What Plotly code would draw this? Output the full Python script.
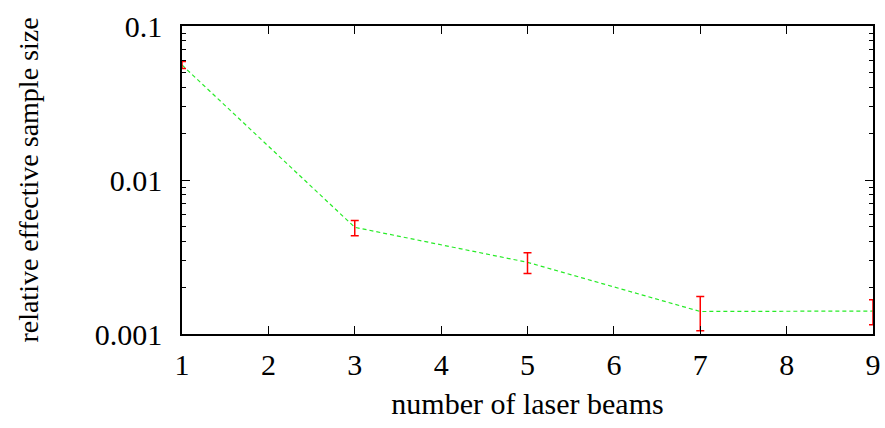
import plotly.graph_objects as go

# number of laser beams vs. relative effective sample size
beams = [1, 3, 5, 7, 9]
ess = [0.0558, 0.00493, 0.00292, 0.00140, 0.00141]
err_plus = [0.0030, 0.00052, 0.00045, 0.00035, 0.00026]
err_minus = [0.0028, 0.00058, 0.00045, 0.00035, 0.00026]

x_ticks = [1, 2, 3, 4, 5, 6, 7, 8, 9]
y_ticks = [0.001, 0.01, 0.1]
y_tick_text = ["0.001", "0.01", "0.1"]

FONT = "Liberation Serif"
tick_font = dict(family=FONT, size=30, color="black")
xtitle_font = dict(family=FONT, size=30, color="black")
ytitle_font = dict(family=FONT, size=28, color="black")

fig = go.Figure()
fig.add_trace(go.Scatter(
    x=beams, y=ess,
    mode="lines",
    line=dict(color="rgb(40,235,40)", width=1.2, dash="4px,3px"),
    showlegend=False,
))
fig.add_trace(go.Scatter(
    x=beams, y=ess,
    mode="markers",
    marker=dict(size=1, color="rgba(0,0,0,0)"),
    error_y=dict(type="data", symmetric=False, array=err_plus, arrayminus=err_minus,
                 color="rgb(255,0,0)", thickness=1.5, width=4),
    cliponaxis=False,
    showlegend=False,
))

fig.update_layout(
    width=885, height=428,
    margin=dict(l=182, r=12, t=26, b=94),
    paper_bgcolor="white", plot_bgcolor="white",
    font=dict(family=FONT, size=30, color="black"),
)
fig.update_xaxes(
    range=[1, 9], tickvals=x_ticks,
    ticks="inside", ticklen=8, tickwidth=1, tickcolor="black",
    showline=True, linecolor="black", linewidth=1.5, mirror="allticks",
    showgrid=False, zeroline=False, automargin="bottom",
    ticklabelstandoff=3,
    title=dict(text="number of laser beams", font=xtitle_font, standoff=13),
    tickfont=tick_font,
)
fig.update_yaxes(
    type="log", range=[-3, -1],
    tickvals=y_ticks, ticktext=y_tick_text,
    ticks="inside", ticklen=8, tickwidth=1, tickcolor="black",
    minor=dict(ticks="inside", ticklen=4, tickcolor="black", dtick="D1", showgrid=False),
    showline=True, linecolor="black", linewidth=1.5, mirror="allticks",
    showgrid=False, zeroline=False, automargin="left",
    ticklabelstandoff=12,
    title=dict(text="relative effective sample size", font=ytitle_font, standoff=48),
    tickfont=tick_font,
)

fig.write_html("out.html")
